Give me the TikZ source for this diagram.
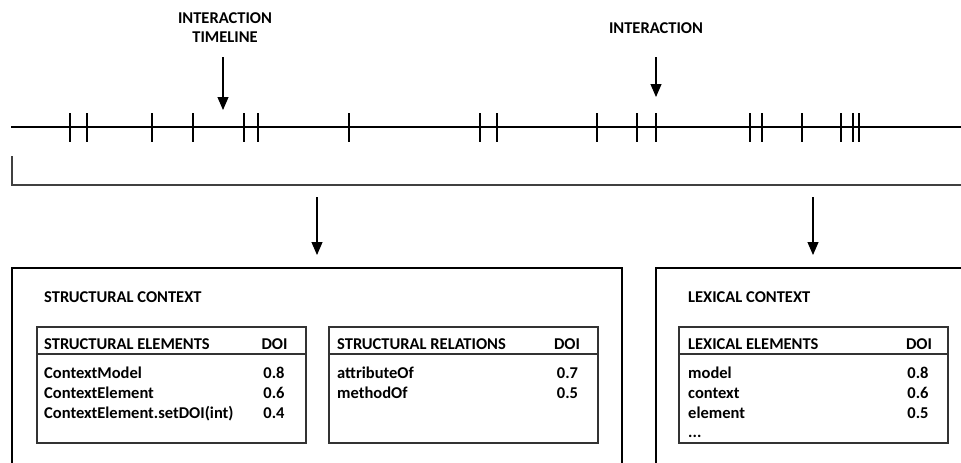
\documentclass[tikz,border=0pt]{standalone}
\usepackage{fontspec}
\setmainfont{Carlito}
\usetikzlibrary{arrows.meta,positioning}

\begin{document}
\begin{tikzpicture}[
  x=1pt, y=-1pt,
  font=\fontsize{16.5}{19}\selectfont\bfseries,
  time axis/.style={
    draw=black,
    line width=2pt
  },
  time tick/.style={
    draw=black,
    line width=1.8pt
  },
  caption/.style={
    inner sep=0pt,
    outer sep=0pt,
    align=center
  },
  flow arrow/.style={
    -{Triangle[length=13pt,width=11pt]},
    draw=black,
    line width=1.1pt
  },
  span line/.style={
    draw=black!75,
    line width=1.3pt
  },
  context box/.style={
    draw=black,
    line width=2pt,
    anchor=north west,
    inner sep=0pt,
    outer sep=0pt,
    minimum height=230pt
  },
  doi table/.style={
    draw=black!80,
    line width=1.3pt,
    anchor=north west,
    minimum width=269pt,
    minimum height=116pt,
    inner sep=0pt,
    outer sep=0pt
  },
  table rule/.style={
    draw=black!80,
    line width=1.3pt
  },
  row entry/.style={
    anchor=base west,
    inner sep=0pt
  },
  doi value/.style={
    anchor=base,
    inner sep=0pt
  }
]
\clip (0,0) rectangle (961,463);

% interaction timeline
\coordinate (axis-start) at (11,127);
\coordinate (axis-end) at (961,127);
\draw[time axis] (axis-start) -- (axis-end);
\foreach \t in {70,87,152,193,244,258,349,480,497,597,637,656,750,762,802,841,853,859}
  \draw[time tick] (\t,113) -- (\t,142);

\node[caption,anchor=north] (label-timeline) at (225,13) {INTERACTION\\TIMELINE};
\node[caption,anchor=north] (label-interaction) at (656,22.5) {INTERACTION};
\coordinate (hit-timeline) at (223,110);
\coordinate (hit-interaction) at (656,97);
\draw[flow arrow] (hit-timeline |- 0,57) -- (hit-timeline);
\draw[flow arrow] (hit-interaction |- 0,57) -- (hit-interaction);

% span of the timeline
\coordinate (span-top) at (12,156);
\coordinate (span-corner) at (12,185);
\coordinate (span-end) at (961,185);
\draw[span line] (span-top) -- (span-corner) -- (span-end);

% context boxes
\node[context box,minimum width=610pt] (struct-box) at (12,268) {};
\node[context box,minimum width=314pt] (lex-box) at (656,268) {};
\draw[flow arrow,shorten <=12pt,shorten >=13pt] (struct-box.north |- span-corner) -- (struct-box.north);
\draw[flow arrow,shorten <=12pt,shorten >=13pt] (lex-box.north |- span-corner) -- (lex-box.north);

\node[row entry] (struct-title) at (44,302) {STRUCTURAL CONTEXT};
\node[row entry] (lex-title) at (688,302) {LEXICAL CONTEXT};

% structural elements
\node[doi table] (struct-elements) at (37,327) {};
\draw[table rule] ([yshift=-27pt]struct-elements.north west) -- ([yshift=-27pt]struct-elements.north east);
\node[row entry] (struct-elements-head) at ([xshift=7pt,yshift=-22pt]struct-elements.north west) {STRUCTURAL ELEMENTS};
\node[doi value] (struct-elements-doi) at ([xshift=237.5pt,yshift=-22pt]struct-elements.north west) {DOI};
\foreach \name/\doi [count=\i] in {ContextModel/0.8,ContextElement/0.6,ContextElement.setDOI(int)/0.4} {
  \node[row entry] (struct-elements-row-\i) at ([xshift=7pt,yshift={-(31.3+20*\i)*1pt}]struct-elements.north west) {\name};
  \node[doi value] (struct-elements-val-\i) at ([xshift=237pt,yshift={-(31.3+20*\i)*1pt}]struct-elements.north west) {\doi};
}

% structural relations
\node[doi table] (struct-relations) at (329,327) {};
\draw[table rule] ([yshift=-27pt]struct-relations.north west) -- ([yshift=-27pt]struct-relations.north east);
\node[row entry] (struct-relations-head) at ([xshift=8pt,yshift=-22pt]struct-relations.north west) {STRUCTURAL RELATIONS};
\node[doi value] (struct-relations-doi) at ([xshift=238pt,yshift=-22pt]struct-relations.north west) {DOI};
\foreach \name/\doi [count=\i] in {attributeOf/0.7,methodOf/0.5} {
  \node[row entry] (struct-relations-row-\i) at ([xshift=8pt,yshift={-(31.3+20*\i)*1pt}]struct-relations.north west) {\name};
  \node[doi value] (struct-relations-val-\i) at ([xshift=238.5pt,yshift={-(31.3+20*\i)*1pt}]struct-relations.north west) {\doi};
}

% lexical elements
\node[doi table] (lex-elements) at (679,327) {};
\draw[table rule] ([yshift=-27pt]lex-elements.north west) -- ([yshift=-27pt]lex-elements.north east);
\node[row entry] (lex-elements-head) at ([xshift=9pt,yshift=-22pt]lex-elements.north west) {LEXICAL ELEMENTS};
\node[doi value] (lex-elements-doi) at ([xshift=240pt,yshift=-22pt]lex-elements.north west) {DOI};
\foreach \name/\doi [count=\i] in {model/0.8,context/0.6,element/0.5} {
  \node[row entry] (lex-elements-row-\i) at ([xshift=9pt,yshift={-(31.3+20*\i)*1pt}]lex-elements.north west) {\name};
  \node[doi value] (lex-elements-val-\i) at ([xshift=239pt,yshift={-(31.3+20*\i)*1pt}]lex-elements.north west) {\doi};
}
\node[row entry] (lex-elements-more) at ([xshift=9pt,yshift=-110pt]lex-elements.north west) {...};

\end{tikzpicture}
\end{document}
